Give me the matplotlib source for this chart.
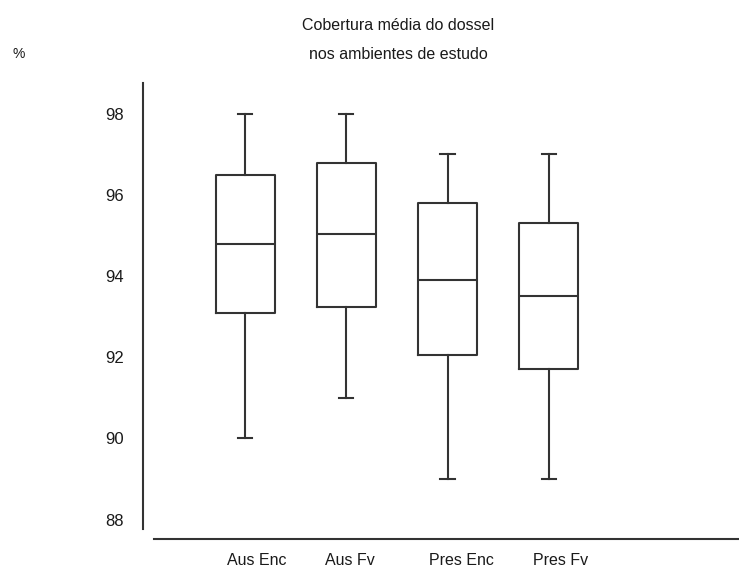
import numpy as np
import matplotlib
matplotlib.use("Agg")
import matplotlib.pyplot as plt

plt.rcParams["font.family"] = ["Liberation Sans", "DejaVu Sans"]

# canopy cover per environment (%)
groups = ["Aus Enc", "Aus Fv", "Pres Enc", "Pres Fv"]
medians = [94.8, 95.05, 93.9, 93.5]
q1 = [93.1, 93.25, 92.05, 91.7]
q3 = [96.5, 96.8, 95.8, 95.3]
whis_lo = [90.0, 91.0, 89.0, 89.0]
whis_hi = [98.0, 98.0, 97.0, 97.0]
y_ticks = [88, 90, 92, 94, 96, 98]
# label spots along x, a little right of the boxes
label_x = [1.118, 2.036, 3.14, 4.12]

stats = [
    dict(med=m, q1=a, q3=b, whislo=lo, whishi=hi, label=g)
    for g, m, a, b, lo, hi in zip(groups, medians, q1, q3, whis_lo, whis_hi)
]

W, H = 739, 567
fig = plt.figure(figsize=(W / 100, H / 100), dpi=100)
ax = fig.add_axes([143 / W, (H - 539) / H, (W - 143) / W, (539 - 83) / H])

ink = "#333333"
txt = "#1a1a1a"
lp = dict(color=ink, linewidth=1.5)
ax.bxp(stats, positions=np.arange(1, 5), widths=0.58, capwidths=0.14,
       showfliers=False, boxprops=lp, whiskerprops=lp, capprops=lp,
       medianprops=lp)

ax.set_xlim(-0.01, 5.88)
ax.set_ylim(87.52, 98.76)

for s in ["top", "right"]:
    ax.spines[s].set_visible(False)
for s in ["left", "bottom"]:
    ax.spines[s].set_color(ink)
    ax.spines[s].set_linewidth(1.5)
ax.spines["left"].set_bounds(87.77, 98.76)
ax.spines["bottom"].set_bounds(0.1, 5.88)

ax.set_yticks(y_ticks)
ax.set_yticklabels([str(t) for t in y_ticks], fontsize=12, color=txt)
ax.tick_params(axis="y", length=0, pad=14)
ax.set_xticks([])

for x, g in zip(label_x, groups):
    ax.text(x, -26 / 456, g, transform=ax.get_xaxis_transform(),
            ha="center", va="baseline", fontsize=11.5, color=txt)

fig.text(398 / W, 1 - 30 / H, "Cobertura média do dossel", ha="center",
         va="baseline", fontsize=11.5, color=txt)
fig.text(398 / W, 1 - 59 / H, "nos ambientes de estudo", ha="center",
         va="baseline", fontsize=11.5, color=txt)
fig.text(19 / W, 1 - 58 / H, "%", ha="center", va="baseline", fontsize=10,
         color=txt)

fig.savefig("out.png", dpi=100)
